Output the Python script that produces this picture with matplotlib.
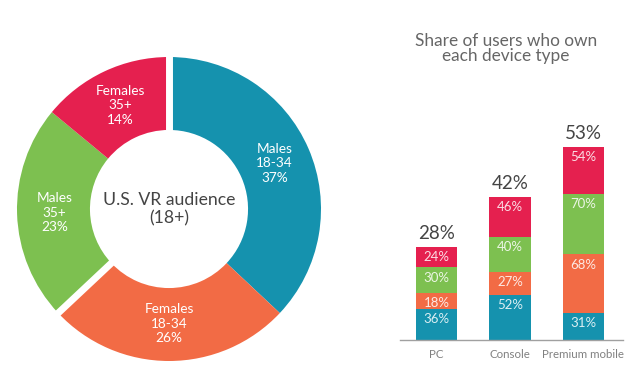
import numpy as np
import matplotlib
matplotlib.use('Agg')
import matplotlib.pyplot as plt

# --- data ---
audience_labels = ['Males\n18-34', 'Females\n18-34', 'Males\n35+', 'Females\n35+']
audience_share = [37, 26, 23, 14]

devices = ['PC', 'Console', 'Premium mobile']
device_total = [28, 42, 53]
males_18_34 = [36, 52, 31]
females_18_34 = [18, 27, 68]
males_35 = [30, 40, 70]
females_35 = [24, 46, 54]

TEAL = '#1592ae'
ORANGE = '#f26b45'
GREEN = '#7dc050'
RED = '#e5204f'
colors = [TEAL, ORANGE, GREEN, RED]

plt.rcParams['font.family'] = ['Lato', 'DejaVu Sans']

fig = plt.figure(figsize=(6.4, 3.77), dpi=100)

# === donut ===
R_PX = 152
ax1 = fig.add_axes([4 / 640, 3 / 377, 330 / 640, 330 / 377])
labels = [f'{l}\n{v}%' for l, v in zip(audience_labels, audience_share)]
wedges, texts = ax1.pie(audience_share, colors=colors, startangle=90, counterclock=False,
                        labels=labels, labeldistance=0.755,
                        wedgeprops=dict(width=0.48, edgecolor='none'),
                        textprops=dict(color='white', ha='center', va='center',
                                       fontsize=9.8, linespacing=1.25))
# white gaps at two boundaries
cum = np.cumsum(audience_share) / sum(audience_share)
for frac in [0.0, cum[1]]:
    ang = np.deg2rad(90 - 360 * frac)
    ax1.plot([0.45 * np.cos(ang), 1.05 * np.cos(ang)],
             [0.45 * np.sin(ang), 1.05 * np.sin(ang)],
             color='white', lw=5, solid_capstyle='butt')
ax1.text(0, 0, 'U.S. VR audience\n(18+)', ha='center', va='center',
         fontsize=12.7, color='#444444', linespacing=1.15)
lim = 165 / R_PX
ax1.set_xlim(-lim, lim)
ax1.set_ylim(-lim, lim)
ax1.set_aspect('equal')
ax1.axis('off')

# === stacked bars ===
PX_PER_UNIT = 0.865
ax2 = fig.add_axes([400 / 640, 37 / 377, 223 / 640, 210 / 377])
x = np.arange(len(devices))
bottom = np.zeros(len(devices))
for vals, c in zip([males_18_34, females_18_34, males_35, females_35], colors):
    ax2.bar(x, vals, bottom=bottom, width=0.558, color=c, edgecolor='none')
    tops = bottom + np.array(vals)
    for xi, t, v in zip(x, tops, vals):
        ax2.annotate(f'{v}%', (xi, t), xytext=(0, -3), textcoords='offset points',
                     ha='center', va='top', color='white', alpha=0.85, fontsize=9.5)
    bottom = tops
for xi, t, v in zip(x, bottom, device_total):
    ax2.annotate(f'{v}%', (xi, t), xytext=(0, 3.5), textcoords='offset points',
                 ha='center', va='bottom', color='#444444', fontsize=13.5)

ax2.set_xlim(-36.5 / 73.5, (623 - 436.5) / 73.5)
ax2.set_ylim(0, 210 / PX_PER_UNIT)
ax2.set_xticks(x)
ax2.set_xticklabels(devices, color='#808080', fontsize=8.3)
ax2.tick_params(axis='x', length=0, pad=6.5)
ax2.set_yticks([])
for s in ['top', 'right', 'left']:
    ax2.spines[s].set_visible(False)
ax2.spines['bottom'].set_color('#a0a0a0')
ax2.spines['bottom'].set_linewidth(1.0)
ax2.patch.set_alpha(0)

fig.text(506 / 640, 1 - 48.5 / 377, 'Share of users who own\neach device type',
         ha='center', va='center', fontsize=12.4, color='#666666',
         linespacing=1.0)

fig.savefig('out.png', dpi=100)
